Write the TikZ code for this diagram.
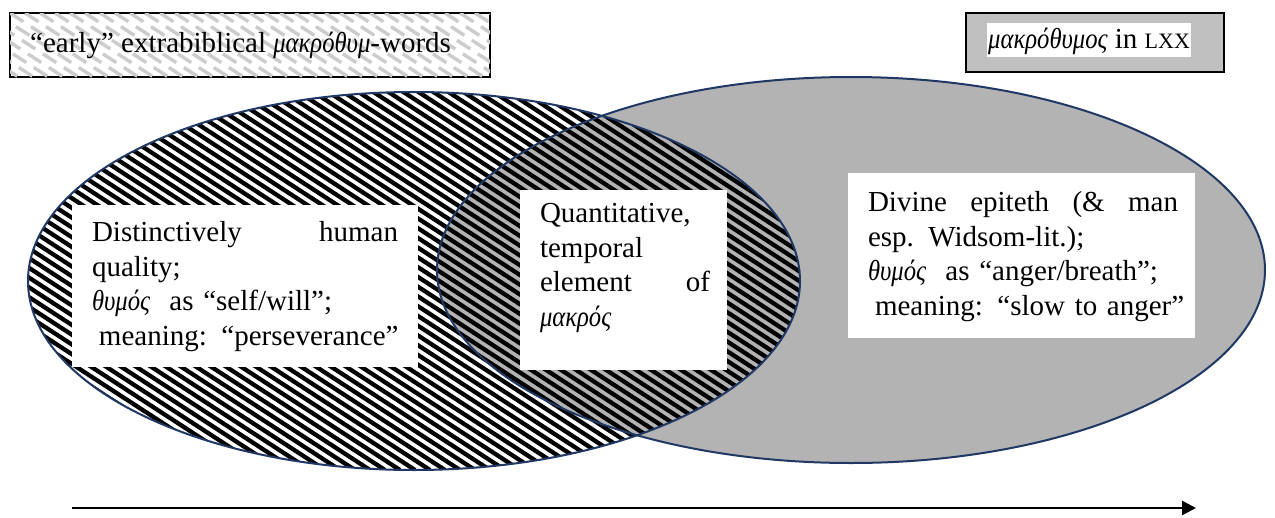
\documentclass[tikz,border=0pt]{standalone}
\usepackage{fontspec}
\setmainfont{Liberation Serif}
\newfontfamily\grk{Liberation Serif}[ItalicFeatures={FakeStretch=0.85}]
\usetikzlibrary{arrows.meta,calc}
\definecolor{navy}{HTML}{1F3864}
\definecolor{ellgray}{HTML}{B3B3B3}
\definecolor{boxgray}{HTML}{C0C0C0}
\definecolor{hatchgray}{HTML}{CCCCCC}
\newcommand{\gk}[1]{{\grk\itshape #1}}
\begin{document}
\begin{tikzpicture}[x=1pt,y=-1pt,
  txt/.style={font=\fontsize{29}{34.5}\selectfont, inner sep=0pt, anchor=base west, align=left, text width=330pt},
  whitebox/.style={fill=white, draw=none, inner sep=0pt},
  ellline/.style={draw=navy, line width=2pt}]
\useasboundingbox[fill=white] (0,0) rectangle (1275,517);

% right ellipse (LXX), grey
\fill[ellgray] (851,270) ellipse [x radius=414, y radius=193];
% left ellipse (early extrabiblical), black hatching
\begin{scope}
  \clip (414,281) ellipse [x radius=386, y radius=189];
  \foreach \i in {0,...,96} {
    \draw[black, line width=4.3pt] ({-620+15*\i},80) -- ++(600,390);
  }
\end{scope}
\draw[ellline] (851,270) ellipse [x radius=414, y radius=193];
\draw[ellline] (414,281) ellipse [x radius=386, y radius=189];

% text boxes
\node[whitebox, minimum width=346pt, minimum height=162pt] (humanbox) at (245,286) {};
\node[txt] (humantxt) at ($(humanbox.north west)+(20,37)$)
  {\leavevmode\hbox to 306pt{Distinctively\hfill human}\\
   quality;\\
   \gk{θυμός}\ \ as “self/will”;\\
   \hspace*{7pt}meaning: “perseverance”};

\node[whitebox, minimum width=207pt, minimum height=180pt] (quantbox) at (623.5,280) {};
\node[txt] (quanttxt) at ($(quantbox.north west)+(20,33)$)
  {Quantitative,\\
   temporal\\
   \leavevmode\hbox to 170pt{element\hfill of}\\
   \gk{μακρός}};

\node[whitebox, minimum width=347pt, minimum height=165pt] (divinebox) at (1021.5,255.5) {};
\node[txt] (divinetxt) at ($(divinebox.north west)+(20,39)$)
  {\leavevmode\hbox to 310pt{Divine\hfill epiteth\hfill (\&\hfill man}\\
   esp. Widsom-lit.);\\
   \gk{θυμός}\ \ as “anger/breath”;\\
   \hspace*{7pt}meaning: “slow to anger”};

% legend box: early extrabiblical words (grey dashed hatching)
\node[draw=black, line width=1.2pt, minimum width=480pt, minimum height=64pt, inner sep=0pt] (earlybox) at (250,45) {};
\begin{scope}
  \clip ($(earlybox.south west)+(0.6,-0.6)$) rectangle ($(earlybox.north east)+(-0.6,0.6)$);
  \foreach \i in {0,...,46} {
    \draw[hatchgray, line width=3.4pt, dash pattern=on 16pt off 9pt] ({-110+15*\i},13) -- ++(200,130);
  }
\end{scope}
\node[txt, text width=] (earlytxt) at (30,52)
  {“early” extrabiblical \gk{μακρόθυμ}-words};

% legend box: LXX
\node[draw=black, line width=1.2pt, fill=boxgray, minimum width=258pt, minimum height=59pt, inner sep=0pt] (lxxbox) at (1095,42.5) {};
\node[fill=white, font=\fontsize{29}{34.5}\selectfont, inner xsep=1pt, inner ysep=0pt,
      text height=25pt, text depth=9pt, anchor=base west] (lxxtxt) at (987,48)
  {\gk{μακρόθυμος} in {\fontsize{22}{22}\selectfont LXX}};

% time arrow
\coordinate (tstart) at (72,508);
\coordinate (tend) at (1196,508);
\draw[black, line width=2.5pt, -{Triangle[length=14pt,width=14pt]}] (tstart) -- (tend);
\end{tikzpicture}
\end{document}
